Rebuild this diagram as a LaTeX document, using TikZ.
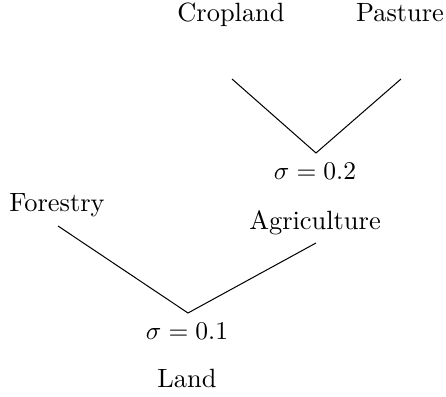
\documentclass[tikz,border=0pt]{standalone}
\begin{document}
\begin{tikzpicture}[x=0.392pt,y=-0.392pt,
  lbl/.style={anchor=base,inner sep=0pt,font=\fontsize{10.35}{12}\selectfont},
  branch/.style={draw=black,line width=0.4pt}]
\useasboundingbox (0,0) rectangle (446,397);
\node[lbl] (crop) at (231,22) {Cropland};
\node[lbl] (past) at (400,22) {Pasture};
\node[lbl] (s2) at (315,180) {$\sigma=0.2$};
\node[lbl] (forest) at (57,212) {Forestry};
\node[lbl] (agri) at (315,230) {Agriculture};
\node[lbl] (s1) at (187,340) {$\sigma=0.1$};
\node[lbl] (land) at (187,388) {Land};
\coordinate (c1) at (232,79);
\coordinate (j2) at (316,153);
\coordinate (c2) at (401,79);
\coordinate (f1) at (58,226);
\coordinate (j1) at (188,313);
\coordinate (a1) at (316,243);
\draw[branch] (c1) -- (j2) -- (c2);
\draw[branch] (f1) -- (j1) -- (a1);
\end{tikzpicture}
\end{document}
